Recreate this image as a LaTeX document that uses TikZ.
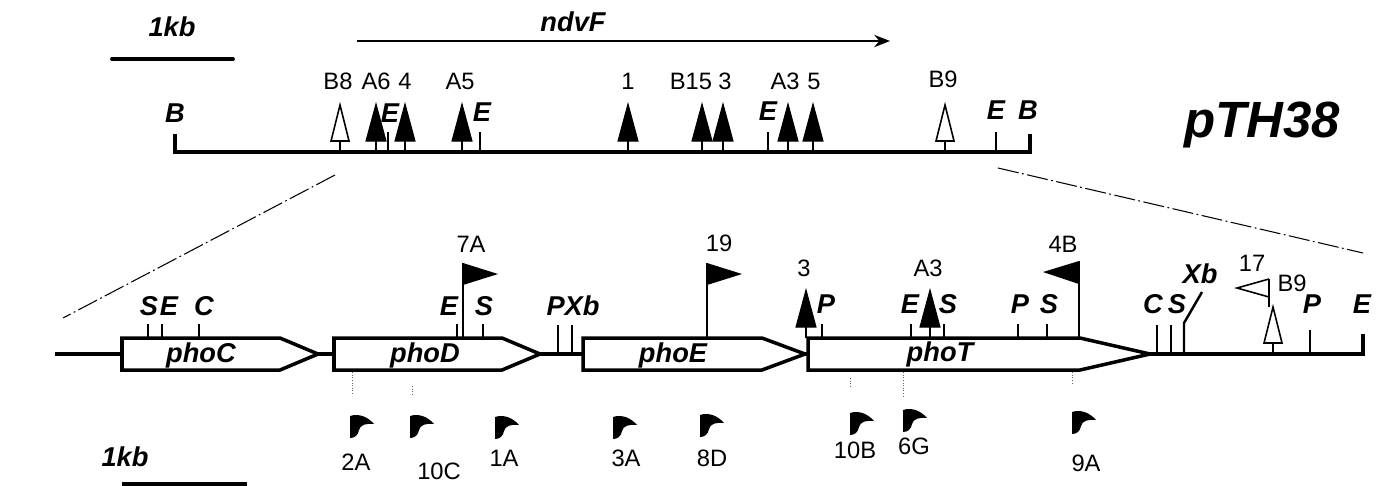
\documentclass[tikz,border=0pt]{standalone}
\usepackage{fontspec}
\setmainfont{Liberation Sans}
\usetikzlibrary{arrows.meta}

\begin{document}
\begin{tikzpicture}[
    x=0.02cm, y=-0.02cm,
    mapline/.style={line width=1.8pt, line join=miter},
    boxline/.style={line width=2pt, line join=miter, fill=white},
    sitetick/.style={line width=1.4pt},
    sitelabel/.style={font=\fontsize{15.5}{15}\selectfont\bfseries\itshape, inner sep=0pt},
    numlabel/.style={font=\fontsize{13.5}{13}\selectfont, inner sep=0pt},
    genelabel/.style={font=\fontsize{15.5}{15}\selectfont\bfseries\itshape, inner sep=0pt},
    kblabel/.style={font=\fontsize{15.5}{15}\selectfont\bfseries\itshape, inner sep=0pt},
    zoomline/.style={line width=0.6pt, dash pattern=on 12pt off 2pt on 1pt off 2pt},
    guideline/.style={line width=0.5pt, densely dotted, black!60},
    insfull/.pic={\draw[line width=0.9pt] (0,0) -- (0,-11);
        \filldraw[line width=0.6pt] (-10,-11) -- (0,-48) -- (10,-11) -- cycle;},
    insopen/.pic={\draw[line width=0.9pt] (0,0) -- (0,-11);
        \draw[line width=0.9pt, fill=white] (-9,-11) -- (0,-47) -- (9,-11) -- cycle;},
    flagright/.pic={\draw[line width=1pt] (0,0) -- (0,-75);
        \fill (0,-75) -- (35,-64) -- (0,-53) -- cycle;},
    flagleft/.pic={\draw[line width=1pt] (0,0) -- (0,-77);
        \fill (0,-77) -- (-36,-66) -- (0,-54) -- cycle;},
    primer/.pic={\fill (0,0) .. controls (9,-3) and (18,1) .. (24,8)
        .. controls (16,7) and (10,9) .. (9,14) .. controls (8,19) and (5,22) .. (0,22) -- cycle;}
]
    \useasboundingbox (0,0) rectangle (1385,485);

    % Top map pTH38
    \node [kblabel] (tkb) at (172,27) {1kb};
    \draw [line width=2.2pt, line cap=round] (112,59) -- (233,59);
    \node [sitelabel] (ndvf) at (573,22) {ndvF};
    \coordinate (ndvfstart) at (357,41);
    \coordinate (ndvfend) at (890,41);
    \draw [line width=1.1pt, -{Stealth[length=9pt, width=7pt]}] (ndvfstart) -- (ndvfend);
    \node [font=\fontsize{29}{29}\selectfont\bfseries\itshape, inner sep=0pt] (pth) at (1262,125) {pTH38};

    \draw [mapline] (175,134) -- (175,152) -- (1030,152) -- (1030,134);
    \draw [sitetick] (388,132) -- (388,152);
    \draw [sitetick] (480,132) -- (480,152);
    \draw [sitetick] (768,132) -- (768,152);
    \draw [sitetick] (996,132) -- (996,152);
    \node [sitelabel] (tB1) at (175,113) {B};
    \node [sitelabel] (tE1) at (390,113) {E};
    \node [sitelabel] (tE2) at (482,112) {E};
    \node [sitelabel] (tE3) at (768,111) {E};
    \node [sitelabel] (tE4) at (996,110) {E};
    \node [sitelabel] (tB2) at (1028,110) {B};

    % insertions on the top map
    \pic at (340,152) {insopen};
    \pic at (376,152) {insfull};
    \pic at (405,152) {insfull};
    \pic at (462,152) {insfull};
    \pic at (628,152) {insfull};
    \pic at (702,152) {insfull};
    \pic at (723,152) {insfull};
    \pic at (788,152) {insfull};
    \pic at (813,152) {insfull};
    \pic at (945,152) {insopen};
    \node [numlabel] (tB8) at (338,81) {B8};
    \node [numlabel] (tA6) at (376,81) {A6};
    \node [numlabel] (t4) at (405,81) {4};
    \node [numlabel] (tA5) at (460,81) {A5};
    \node [numlabel] (t1) at (628,81) {1};
    \node [numlabel] (tB15) at (691,81) {B15};
    \node [numlabel] (t3) at (725,81) {3};
    \node [numlabel] (tA3) at (785,81) {A3};
    \node [numlabel] (t5) at (814,81) {5};
    \node [numlabel] (tB9) at (943,79) {B9};

    % Expansion lines
    \coordinate (zl1) at (335,175);
    \coordinate (zl2) at (63,318);
    \coordinate (zr1) at (998,168);
    \coordinate (zr2) at (1363,253);
    \draw [zoomline] (zl1) -- (zl2);
    \draw [zoomline] (zr1) -- (zr2);

    % Bottom map: backbone and genes
    \draw [mapline] (55,354) -- (1363,354) -- (1363,334);
    \draw [boxline] (122,338) -- (280,338) -- (318,354) -- (280,370) -- (122,370) -- cycle;
    \draw [boxline] (334,338) -- (502,338) -- (540,354) -- (502,370) -- (334,370) -- cycle;
    \draw [boxline] (583,338) -- (762,338) -- (805,354) -- (762,370) -- (583,370) -- cycle;
    \draw [boxline] (808,338) -- (1080,338) -- (1150,354) -- (1080,370) -- (808,370) -- cycle;
    \node [genelabel] (phoC) at (201,355) {phoC};
    \node [genelabel] (phoD) at (425,355) {phoD};
    \node [genelabel] (phoE) at (673,355) {phoE};
    \node [genelabel] (phoT) at (940,354) {phoT};

    % restriction sites
    \draw [sitetick] (148,324) -- (148,338);
    \draw [sitetick] (162,324) -- (162,338);
    \draw [sitetick] (199,324) -- (199,338);
    \draw [sitetick] (457,324) -- (457,338);
    \draw [sitetick] (483,324) -- (483,338);
    \draw [sitetick] (558,325) -- (558,354);
    \draw [sitetick] (572,325) -- (572,354);
    \draw [sitetick] (822,324) -- (822,338);
    \draw [sitetick] (911,324) -- (911,338);
    \draw [sitetick] (944,324) -- (944,338);
    \draw [sitetick] (1018,324) -- (1018,338);
    \draw [sitetick] (1047,324) -- (1047,338);
    \draw [sitetick] (1157,325) -- (1157,354);
    \draw [sitetick] (1171,325) -- (1171,354);
    \draw [sitetick] (1184,354) -- (1184,323) -- (1202,292);
    \draw [sitetick] (1310,330) -- (1310,354);
    \node [sitelabel] (bS1) at (149,306) {S};
    \node [sitelabel] (bE1) at (169,306) {E};
    \node [sitelabel] (bC1) at (204,306) {C};
    \node [sitelabel] (bE2) at (449,306) {E};
    \node [sitelabel] (bS2) at (484,306) {S};
    \node [sitelabel] (bPXb) at (573,306) {PXb};
    \node [sitelabel] (bP1) at (826,304) {P};
    \node [sitelabel] (bE3) at (910,304) {E};
    \node [sitelabel] (bS3) at (948,304) {S};
    \node [sitelabel] (bP2) at (1020,304) {P};
    \node [sitelabel] (bS4) at (1049,304) {S};
    \node [sitelabel] (bC2) at (1153,304) {C};
    \node [sitelabel] (bS5) at (1177,304) {S};
    \node [sitelabel] (bXb) at (1200,274) {Xb};
    \node [sitelabel] (bP3) at (1312,304) {P};
    \node [sitelabel] (bE4) at (1362,304) {E};

    % insertions and flags on the bottom map
    \pic at (463,338) {flagright};
    \pic at (707,338) {flagright};
    \pic at (806,338) {insfull};
    \pic at (930,338) {insfull};
    \pic at (1079,338) {flagleft};
    \pic at (1273,354) {insopen};
    \draw [line width=0.9pt] (1269,307) -- (1269,279);
    \draw [line width=0.9pt] (1269,279) -- (1237,288) -- (1269,297);
    \node [numlabel] (b7A) at (471,244) {7A};
    \node [numlabel] (b19) at (719,243) {19};
    \node [numlabel] (b3) at (804,268) {3};
    \node [numlabel] (bA3) at (928,268) {A3};
    \node [numlabel] (b4B) at (1063,244) {4B};
    \node [numlabel] (b17) at (1252,263) {17};
    \node [numlabel] (bB9) at (1292,283) {B9};

    % primers
    \draw [guideline] (352,372) -- (352,394);
    \draw [guideline] (412,386) -- (412,394);
    \draw [guideline] (850,378) -- (850,386);
    \draw [guideline] (903,372) -- (903,396);
    \draw [guideline] (1072,372) -- (1072,384);
    \pic at (350,416) {primer};
    \pic at (410,416) {primer};
    \pic at (495,417) {primer};
    \pic at (613,417) {primer};
    \pic at (700,415) {primer};
    \pic at (850,413) {primer};
    \pic at (903,410) {primer};
    \pic at (1072,412) {primer};
    \node [numlabel] (p2A) at (356,462) {2A};
    \node [numlabel] (p10C) at (439,471) {10C};
    \node [numlabel] (p1A) at (504,458) {1A};
    \node [numlabel] (p3A) at (626,458) {3A};
    \node [numlabel] (p8D) at (712,458) {8D};
    \node [numlabel] (p10B) at (855,450) {10B};
    \node [numlabel] (p6G) at (914,446) {6G};
    \node [numlabel] (p9A) at (1086,463) {9A};

    % lower scale
    \node [kblabel] (bkb) at (125,457) {1kb};
    \draw [line width=2pt] (122,484) -- (247,484);
\end{tikzpicture}
\end{document}
